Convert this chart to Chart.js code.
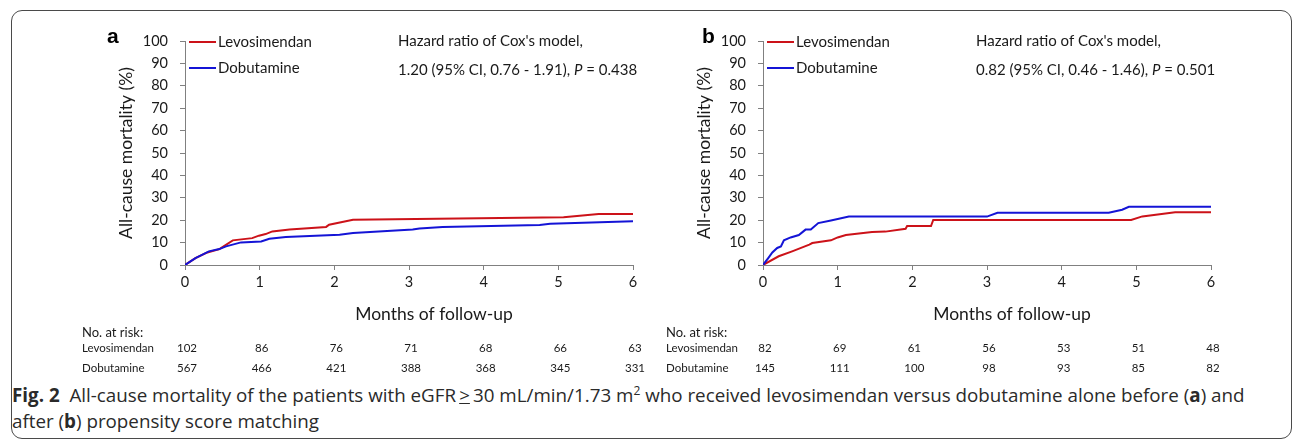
<!DOCTYPE html>
<html>
<head>
<meta charset="utf-8">
<script src="https://cdn.jsdelivr.net/npm/chart.js@4.4.1/dist/chart.umd.min.js"></script>
<style>
html, body { margin: 0; padding: 0; background: #fff; }
body { width: 1293px; height: 440px; position: relative; overflow: hidden; }
#frame { position: absolute; left: 11px; top: 10px; width: 1279px; height: 427px; border: 1px solid #4a4a4a; border-radius: 11px; }
.panel { position: absolute; top: 0; }
#panelA { left: 0; }
#panelB { left: 578px; }
#caption { position: absolute; left: 12px; top: 382px; font-family: 'Open Sans', sans-serif; font-size: 18.8px; line-height: 26px; color: #2a2a2a; white-space: nowrap; }
#caption b { font-weight: 700; }
</style>
</head>
<body>
<div id="frame"></div>
<canvas id="panelA" class="panel" width="650" height="380"></canvas>
<canvas id="panelB" class="panel" width="650" height="380"></canvas>
<div id="caption"><b>Fig. 2</b>&nbsp; All-cause mortality of the patients with eGFR&#8201;<u>&gt;</u>&#8201;30 mL/min/1.73 m<sup style="font-size:12px;line-height:0">2</sup> who received levosimendan versus dobutamine alone before (<b>a</b>) and<br>after (<b>b</b>) propensity score matching</div>

<script>
// tick labels / categories
const monthTicks = [0, 1, 2, 3, 4, 5, 6];
const seriesNames = ['Levosimendan', 'Dobutamine'];

// panel a: before matching (months, cumulative mortality %)
const levoA_t = [0, 0.14, 0.30, 0.46, 0.64, 0.90, 0.99, 1.08, 1.17, 1.40, 1.89, 1.93, 2.25, 5.07, 5.54, 6.0];
const levoA_y = [0, 3.1, 5.6, 7.1, 11.0, 12.0, 13.1, 13.8, 15.0, 15.8, 17.0, 18.0, 20.2, 21.3, 22.8, 22.8];
const dobuA_t = [0, 0.14, 0.32, 0.46, 0.55, 0.75, 1.02, 1.13, 1.35, 2.07, 2.25, 3.05, 3.14, 3.45, 4.75, 4.89, 6.0];
const dobuA_y = [0, 3.1, 6.1, 7.1, 8.3, 10.1, 10.5, 11.7, 12.5, 13.5, 14.3, 15.8, 16.3, 17.0, 17.9, 18.4, 19.5];

// panel b: after propensity score matching
const levoB_t = [0, 0.21, 0.39, 0.62, 0.66, 0.91, 1.0, 1.11, 1.46, 1.64, 1.91, 1.93, 2.25, 2.28, 4.93, 5.08, 5.52, 6.0];
const levoB_y = [0, 3.9, 6.1, 9.1, 9.8, 11.0, 12.3, 13.4, 14.7, 14.9, 16.2, 17.4, 17.4, 20.1, 20.1, 21.7, 23.5, 23.5];
const dobuB_t = [0, 0.07, 0.125, 0.19, 0.24, 0.28, 0.37, 0.48, 0.57, 0.64, 0.74, 0.91, 1.15, 3.0, 3.14, 4.63, 4.81, 4.90, 6.0];
const dobuB_y = [0, 3.1, 5.6, 7.6, 8.3, 11.0, 12.3, 13.4, 15.8, 15.8, 18.7, 19.9, 21.6, 21.6, 23.3, 23.3, 24.7, 26.0, 26.0];

// numbers at risk
const riskLevoA = [102, 86, 76, 71, 68, 66, 63];
const riskDobuA = [567, 466, 421, 388, 368, 345, 331];
const riskLevoB = [82, 69, 61, 56, 53, 51, 48];
const riskDobuB = [145, 111, 100, 98, 93, 85, 82];

// Cox model text
const hazardA = ['1.20 (95% CI, 0.76 - 1.91), ', 'P', ' = 0.438'];
const hazardB = ['0.82 (95% CI, 0.46 - 1.46), ', 'P', ' = 0.501'];

const RED = '#cc1219';
const BLUE = '#1414d6';
const TXT = '#1a1a1a';
const AXIS = '#808080';
const BASE = 'Lato, sans-serif';

function pts(t, y) {
    return t.map((v, i) => ({ x: v, y: y[i] }));
}

// extra texts: panel letter, legend, hazard ratio, x title, numbers at risk
const panelDecor = {
    id: 'panelDecor',
    afterDraw(chart, args, o) {
        const ctx = chart.ctx;
        const area = chart.chartArea;
        const xs = chart.scales.x;
        ctx.save();
        ctx.textBaseline = 'middle';
        ctx.textAlign = 'left';

        ctx.fillStyle = '#000';
        ctx.font = 'bold 21px "Liberation Sans", Arial, sans-serif';
        ctx.fillText(o.letter, o.letterX, 37);

        chart.data.datasets.forEach((ds, i) => {
            const y = 42 + i * 26;
            ctx.strokeStyle = ds.borderColor;
            ctx.lineWidth = 2;
            ctx.beginPath();
            ctx.moveTo(area.left + 4, y);
            ctx.lineTo(area.left + 31, y);
            ctx.stroke();
            ctx.fillStyle = TXT;
            ctx.font = '15px ' + BASE;
            ctx.fillText(ds.label, area.left + 33, y);
        });

        ctx.font = '15px ' + BASE;
        ctx.fillStyle = TXT;
        const hx = area.left + 213;
        ctx.fillText("Hazard ratio of Cox's model,", hx, 41);
        let x = hx;
        o.hazard.forEach((part, i) => {
            ctx.font = (i === 1 ? 'italic ' : '') + '15px ' + BASE;
            ctx.fillText(part, x, 70);
            x += ctx.measureText(part).width;
        });

        ctx.font = '17.5px ' + BASE;
        ctx.textAlign = 'center';
        ctx.fillText('Months of follow-up', (area.left + area.right) / 2 + 25, 314);

        ctx.textAlign = 'left';
        ctx.font = '13px ' + BASE;
        ctx.fillText('No. at risk:', o.riskX, 333);
        ctx.font = '11.5px ' + BASE;
        const rows = [o.riskLevo, o.riskDobu];
        rows.forEach((row, r) => {
            const y = 348 + r * 20;
            ctx.textAlign = 'left';
            ctx.fillText(seriesNames[r], o.riskX, y);
            ctx.textAlign = 'center';
            row.forEach((n, i) => {
                ctx.fillText(String(n), xs.getPixelForValue(monthTicks[i]) + 2, y);
            });
        });
        ctx.restore();
    }
};

function makePanel(id, levo, dobu, decor) {
    const ctx = document.getElementById(id).getContext('2d');
    return new Chart(ctx, {
        type: 'line',
        data: {
            datasets: [
                { label: seriesNames[0], data: levo, borderColor: RED, borderWidth: 2, pointRadius: 0, tension: 0, fill: false, order: 1 },
                { label: seriesNames[1], data: dobu, borderColor: BLUE, borderWidth: 2, pointRadius: 0, tension: 0, fill: false, order: 0 }
            ]
        },
        options: {
            responsive: false,
            animation: false,
            events: [],
            layout: { padding: { left: 116, right: 17, top: 41, bottom: 85 } },
            plugins: {
                legend: { display: false },
                tooltip: { enabled: false },
                panelDecor: decor
            },
            scales: {
                x: {
                    type: 'linear',
                    min: 0,
                    max: 6,
                    afterBuildTicks: s => { s.ticks = monthTicks.map(v => ({ value: v })); },
                    afterFit: s => { s.height = 30; },
                    grid: { drawOnChartArea: false, tickLength: 5, color: AXIS },
                    border: { color: AXIS, width: 1 },
                    ticks: { color: TXT, padding: 4, font: { family: BASE, size: 14.5 } }
                },
                y: {
                    min: 0,
                    max: 100,
                    afterFit: s => { s.width = 69; },
                    grid: { drawOnChartArea: false, tickLength: 5, color: AXIS },
                    border: { color: AXIS, width: 1 },
                    ticks: { stepSize: 10, color: TXT, padding: 12, font: { family: BASE, size: 14.5 } },
                    title: {
                        display: true,
                        text: 'All-cause mortality (%)',
                        color: TXT,
                        padding: 0,
                        font: { family: BASE, size: 17.5 }
                    }
                }
            }
        },
        plugins: [panelDecor]
    });
}

makePanel('panelA', pts(levoA_t, levoA_y), pts(dobuA_t, dobuA_y),
    { letter: 'a', letterX: 107, hazard: hazardA, riskLevo: riskLevoA, riskDobu: riskDobuA, riskX: 82 });
makePanel('panelB', pts(levoB_t, levoB_y), pts(dobuB_t, dobuB_y),
    { letter: 'b', letterX: 124, hazard: hazardB, riskLevo: riskLevoB, riskDobu: riskDobuB, riskX: 88 });
</script>
</body>
</html>
